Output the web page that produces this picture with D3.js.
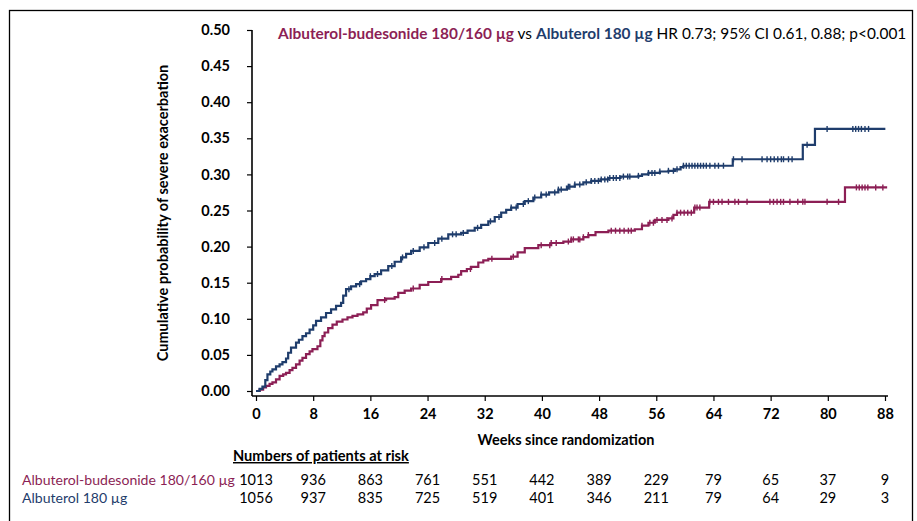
<!DOCTYPE html>
<html><head><meta charset="utf-8">
<script src="https://cdn.jsdelivr.net/npm/d3@7"></script>
<style>
html,body{margin:0;padding:0;background:#fff;}
text{font-family:Lato,"Open Sans",sans-serif;}
</style></head>
<body>
<svg id="chart" width="917" height="521"></svg>
<script>
// ---- data ----
const xTicks = [0,8,16,24,32,40,48,56,64,72,80,88];
const yTicks = [0,0.05,0.10,0.15,0.20,0.25,0.30,0.35,0.40,0.45,0.50];
const seriesNames = ["Albuterol-budesonide 180/160 µg","Albuterol 180 µg"];
const colors = ["#8c1f55","#1f3d6c"];

// Albuterol-budesonide (weeks, cumulative probability)
const budTime = [0,0.5,1.0,1.4,1.9,2.3,2.8,3.3,3.8,4.2,4.7,5.1,5.6,6.1,6.5,7.0,7.5,7.9,8.6,9.0,9.3,9.6,10.1,10.7,11.3,12.1,12.8,13.5,14.2,15.0,15.5,16.1,17.0,18.2,19.4,19.9,20.8,21.7,22.9,24.1,25.9,27.3,28.3,28.7,29.5,30.1,31.1,31.8,32.5,35.7,36.6,37.6,39.5,41.3,43.0,44.1,45.8,46.5,47.5,49.3,53.0,54.0,54.9,55.8,57.7,58.4,58.9,61.3,63.4,82.4,88.3];
const budProb = [0,0.002,0.005,0.007,0.010,0.012,0.016,0.021,0.023,0.025,0.029,0.032,0.037,0.042,0.046,0.051,0.055,0.058,0.062,0.070,0.076,0.081,0.087,0.092,0.096,0.099,0.102,0.104,0.106,0.109,0.114,0.119,0.126,0.128,0.130,0.136,0.139,0.142,0.147,0.151,0.155,0.158,0.161,0.166,0.169,0.172,0.178,0.181,0.183,0.186,0.192,0.198,0.202,0.205,0.207,0.210,0.213,0.216,0.220,0.222,0.224,0.229,0.233,0.237,0.239,0.244,0.247,0.254,0.262,0.282,0.282];
const budCensor = [18,22,26,30,33,36,39.9,41.1,41.3,42,43.7,44.1,44.4,45.1,45.3,45.8,46.5,49.7,50.3,50.9,51.5,52.1,52.5,54.0,55.1,55.6,56.1,56.8,57.5,58.2,58.9,59.4,59.9,60.4,60.9,61.4,61.7,62.1,63.5,64.0,64.7,65.2,66.1,67.0,67.5,68.7,71.9,72.4,72.9,73.4,73.8,74.7,75.8,76.5,76.8,79.9,81.5,84.0,84.4,84.8,85.2,85.6,86.7,87.7];

// Albuterol
const albTime = [0,0.5,0.9,1.3,1.6,2.0,2.3,2.8,3.3,3.7,4.2,4.5,4.9,5.6,6.0,6.5,7.0,7.5,8.0,8.4,9.1,9.8,10.5,11.2,11.9,12.2,12.6,13.3,14.0,14.7,15.4,16.0,16.6,17.5,18.5,19.4,20.3,21.0,21.7,22.9,24.1,25.5,26.9,28.7,29.6,30.6,31.5,32.5,33.4,34.3,35.0,35.7,36.6,37.6,38.8,39.9,41.0,42.3,43.5,44.6,45.8,46.9,48.2,49.3,51.0,53.5,54.0,54.9,56.5,57.7,58.6,59.4,59.8,66.7,76.5,78.2,88.05];
const albProb = [0,0.003,0.006,0.015,0.023,0.027,0.030,0.034,0.037,0.040,0.045,0.053,0.060,0.067,0.071,0.076,0.080,0.085,0.091,0.097,0.102,0.108,0.113,0.118,0.122,0.132,0.141,0.145,0.148,0.152,0.155,0.159,0.162,0.167,0.173,0.179,0.185,0.190,0.194,0.199,0.205,0.211,0.217,0.219,0.222,0.226,0.230,0.235,0.241,0.247,0.251,0.254,0.259,0.263,0.268,0.272,0.275,0.279,0.283,0.286,0.289,0.291,0.293,0.295,0.297,0.298,0.300,0.302,0.304,0.305,0.307,0.310,0.312,0.321,0.341,0.363,0.363];
const albCensor = [13,14.5,16,17,19,20.5,22,23.5,25,26,27.5,28,29,31,32.8,34,35.7,36.4,37.4,38.1,39.0,39.9,40.6,41.8,42.3,42.7,43.7,43.9,44.6,45.3,46.2,46.9,47.4,47.9,48.3,48.8,49.2,49.5,50.0,50.4,50.9,51.4,52.0,52.3,53.5,54.9,55.4,55.8,56.5,57.7,58.4,58.9,59.8,60.2,60.6,61.0,61.4,61.8,62.2,62.6,63.0,63.5,64.2,64.7,65.4,66.8,68.0,70.8,71.5,72.0,72.5,73.0,73.5,73.8,74.5,75.0,77.1,79.9,83.5,83.9,84.3,84.7,85.2,85.7];

const riskBud = [1013,936,863,761,551,442,389,229,79,65,37,9];
const riskAlb = [1056,937,835,725,519,401,346,211,79,64,29,3];

// ---- drawing ----
const svg = d3.select("#chart");
const x = d3.scaleLinear().domain([0,88]).range([256,885]);
const y = d3.scaleLinear().domain([0,0.5]).range([391,30]);

// frame
svg.append("rect").attr("x",9.5).attr("y",10.5).attr("width",903).attr("height",560)
  .attr("fill","none").attr("stroke","#000").attr("stroke-width",1.3);

// y axis
const yAxisG = svg.append("g").attr("transform","translate(252,0)")
  .call(d3.axisLeft(y).tickValues(yTicks).tickFormat(d3.format(".2f")).tickSize(5).tickPadding(17));
yAxisG.select(".domain").attr("d","M0,30V396").attr("stroke-width",1.6);
yAxisG.selectAll(".tick line").attr("stroke-width",1.2);
yAxisG.selectAll(".tick text").attr("font-size",14.5).attr("font-weight","bold").attr("fill","#000")
  .style("font-family","Lato,sans-serif");

// x axis
const xAxisG = svg.append("g").attr("transform","translate(0,396)")
  .call(d3.axisBottom(x).tickValues(xTicks).tickSize(5).tickPadding(8));
xAxisG.select(".domain").attr("d","M252,0H888").attr("stroke-width",1.6);
xAxisG.selectAll(".tick line").attr("stroke-width",1.2);
xAxisG.selectAll(".tick text").attr("font-size",14.5).attr("font-weight","bold").attr("fill","#000")
  .style("font-family","Lato,sans-serif");

// axis titles
const yt = svg.append("text").attr("transform","translate(168,213) rotate(-90)")
  .attr("text-anchor","middle").attr("font-size",14).attr("font-weight","bold")
  .text("Cumulative probability of severe exacerbation");
svg.append("text").attr("x",566).attr("y",445).attr("text-anchor","middle")
  .attr("font-size",14.5).attr("font-weight","bold").text("Weeks since randomization");

// curves
const series = [
  {t:budTime,p:budProb,c:budCensor,color:colors[0]},
  {t:albTime,p:albProb,c:albCensor,color:colors[1]}
];
const line = d3.line().x(d=>x(d[0])).y(d=>y(d[1])).curve(d3.curveStepAfter);
series.forEach(s=>{
  const pts = s.t.map((t,i)=>[t,s.p[i]]);
  svg.append("path").attr("d",line(pts)).attr("fill","none")
    .attr("stroke",s.color).attr("stroke-width",2.2);
  const bis = d3.bisector(d=>d).right;
  svg.append("g").selectAll("line").data(s.c).join("line")
    .attr("x1",d=>x(d)).attr("x2",d=>x(d))
    .attr("y1",d=>y(s.p[Math.max(0,bis(s.t,d)-1)])-3)
    .attr("y2",d=>y(s.p[Math.max(0,bis(s.t,d)-1)])+3)
    .attr("stroke",s.color).attr("stroke-width",1.4);
});

// title
const title = svg.append("text").attr("x",278).attr("y",39).attr("font-size",16);
title.append("tspan").attr("font-weight","bold").attr("fill",colors[0]).text(seriesNames[0]);
title.append("tspan").attr("fill","#000").text(" vs ");
title.append("tspan").attr("font-weight","bold").attr("fill",colors[1]).text(seriesNames[1]);
title.append("tspan").attr("fill","#000").text(" HR 0.73; 95% CI 0.61, 0.88; p<0.001");
function fit(sel, target){
  const w = sel.node().getComputedTextLength();
  const fs = parseFloat(sel.attr("font-size"));
  sel.attr("font-size", fs*target/w);
}
fit(title, 629);
fit(yt, 297);

// risk table
const hdr = svg.append("text").attr("x",233).attr("y",461).attr("font-size",14.5)
  .attr("font-weight","bold").attr("text-decoration","underline").text("Numbers of patients at risk");
fit(hdr,176);
const rows = [{name:seriesNames[0],vals:riskBud,color:colors[0],y:485},
              {name:seriesNames[1],vals:riskAlb,color:colors[1],y:503}];
rows.forEach(r=>{
  const lab = svg.append("text").attr("x",22).attr("y",r.y).attr("font-size",14.5)
    .attr("fill",r.color).text(r.name);
  if(r===rows[0]) fit(lab,213); else lab.attr("font-size", rows[0].fs);
  r.fs = lab.attr("font-size");
  svg.append("g").selectAll("text").data(r.vals).join("text")
    .attr("x",(d,i)=>x(xTicks[i])).attr("y",r.y).attr("text-anchor","middle")
    .attr("font-size",14.5).attr("fill","#000").text(d=>d);
});
</script>
</body></html>
